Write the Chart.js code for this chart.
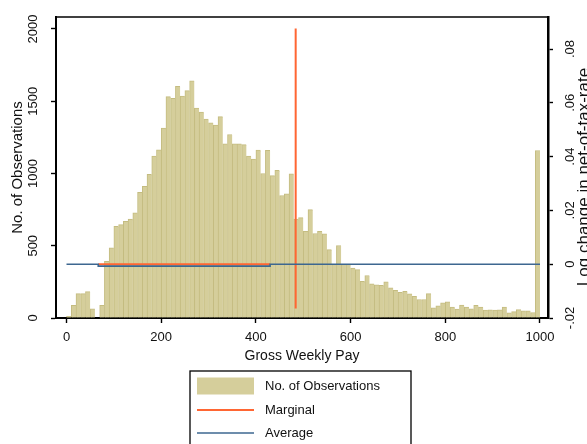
<!DOCTYPE html>
<html>
<head>
<meta charset="utf-8">
<script src="https://cdn.jsdelivr.net/npm/chart.js@4.4.1/dist/chart.umd.min.js"></script>
<style>
  html, body { margin: 0; padding: 0; background: #fff; }
  canvas { display: block; }
</style>
</head>
<body>
<canvas id="payChart" width="587" height="444"></canvas>
<script>
// Histogram bins of gross weekly pay (lower edge of each 10-unit bin)
const binStart = [
  0, 10, 20, 30, 40, 50, 60, 70, 80, 90,
  100, 110, 120, 130, 140, 150, 160, 170, 180, 190,
  200, 210, 220, 230, 240, 250, 260, 270, 280, 290,
  300, 310, 320, 330, 340, 350, 360, 370, 380, 390,
  400, 410, 420, 430, 440, 450, 460, 470, 480, 490,
  500, 510, 520, 530, 540, 550, 560, 570, 580, 590,
  600, 610, 620, 630, 640, 650, 660, 670, 680, 690,
  700, 710, 720, 730, 740, 750, 760, 770, 780, 790,
  800, 810, 820, 830, 840, 850, 860, 870, 880, 890,
  900, 910, 920, 930, 940, 950, 960, 970, 980, 990
];
const binWidth = 10;

// Number of observations in each bin
const observations = [
  12, 88, 169, 169, 183, 63, 0, 88, 393, 485,
  634, 646, 669, 685, 727, 869, 911, 995, 1120, 1164,
  1314, 1532, 1521, 1604, 1535, 1573, 1642, 1452, 1425, 1377,
  1350, 1335, 1394, 1205, 1270, 1205, 1205, 1200, 1120, 1100,
  1162, 1000, 1160, 985, 1022, 848, 860, 997, 684, 695,
  600, 750, 585, 600, 582, 473, 370, 502, 370, 370,
  345, 335, 254, 294, 237, 230, 226, 250, 209, 191,
  178, 185, 168, 150, 128, 128, 169, 70, 85, 105,
  112, 75, 62, 90, 76, 63, 88, 76, 55, 57,
  55, 56, 76, 36, 44, 58, 49, 49, 38, 1159
];

// Log change in the net-of-tax rate (right axis)
const marginalPay    = [67, 430, 457, 484, 484];
const marginalChange = [0, 0, null, 0.0876, -0.0165];
const averagePay     = [0, 67, 67, 430, 430, 1000];
const averageChange  = [0, 0, -0.0007, -0.0007, 0, 0];

// Axis ticks
const payTicks = [0, 200, 400, 600, 800, 1000];
const payTickLabels = ['0', '200', '400', '600', '800', '1000'];
const countTicks = [0, 500, 1000, 1500, 2000];
const countTickLabels = ['0', '500', '1000', '1500', '2000'];
const changeTicks = [-0.02, 0, 0.02, 0.04, 0.06, 0.08];
const changeTickLabels = ['-.02', '0', '.02', '.04', '.06', '.08'];

const FONT = "'Liberation Sans', Arial, Helvetica, sans-serif";
Chart.defaults.font.family = FONT;
Chart.defaults.color = '#111';

const KHAKI = 'rgb(213, 206, 155)';
const KHAKI_EDGE = 'rgb(196, 188, 128)';
const ORANGE = '#ff6633';
const NAVY = '#3d6790';

function fixedTicks(values) {
  return scale => { scale.ticks = values.map(v => ({ value: v })); };
}

// Top frame line, right-hand axis title and the boxed legend
const decorations = {
  id: 'decorations',
  afterDraw(chart) {
    const { ctx, chartArea } = chart;
    ctx.save();
    ctx.strokeStyle = '#000';
    ctx.lineWidth = 1.3;
    ctx.beginPath();
    ctx.moveTo(chartArea.left - 1, chartArea.top);
    ctx.lineTo(chartArea.right + 1, chartArea.top);
    ctx.stroke();

    // right axis title, reading upwards
    ctx.fillStyle = '#111';
    ctx.font = '17px ' + FONT;
    ctx.textAlign = 'center';
    ctx.textBaseline = 'alphabetic';
    ctx.translate(589, 177);
    ctx.rotate(-Math.PI / 2);
    ctx.fillText('Log change in net-of-tax-rate', 0, 0);
    ctx.restore();

    // legend
    ctx.save();
    const box = { left: 190, top: 371, right: 411, bottom: 447 };
    ctx.strokeStyle = '#000';
    ctx.lineWidth = 1.3;
    ctx.strokeRect(box.left, box.top, box.right - box.left, box.bottom - box.top);
    const rows = [386, 410, 433];
    const keyLeft = 197, keyRight = 254, textLeft = 265;
    ctx.font = '13px ' + FONT;
    ctx.textAlign = 'left';
    ctx.textBaseline = 'middle';
    chart.data.datasets.forEach((ds, i) => {
      const y = rows[i];
      if (ds.type === 'bar') {
        ctx.fillStyle = ds.backgroundColor;
        ctx.fillRect(keyLeft, y - 8.5, keyRight - keyLeft, 17);
      } else {
        ctx.strokeStyle = ds.borderColor;
        ctx.lineWidth = ds.borderWidth;
        ctx.beginPath();
        ctx.moveTo(keyLeft, y);
        ctx.lineTo(keyRight, y);
        ctx.stroke();
      }
      ctx.fillStyle = '#111';
      ctx.fillText(ds.label, textLeft, y + 0.5);
    });
    ctx.restore();
  }
};

new Chart(document.getElementById('payChart'), {
  type: 'bar',
  data: {
    datasets: [
      {
        type: 'bar',
        label: 'No. of Observations',
        data: binStart.map((s, i) => ({ x: s + binWidth / 2, y: observations[i] })),
        backgroundColor: KHAKI,
        borderColor: KHAKI_EDGE,
        borderWidth: { left: 1, right: 0, top: 1, bottom: 0 },
        barPercentage: 1,
        categoryPercentage: 1,
        xAxisID: 'x',
        yAxisID: 'y',
        order: 3
      },
      {
        type: 'line',
        label: 'Marginal',
        data: marginalPay.map((p, i) => ({ x: p, y: marginalChange[i] })),
        borderColor: ORANGE,
        backgroundColor: ORANGE,
        borderWidth: 2,
        pointRadius: 0,
        tension: 0,
        spanGaps: false,
        xAxisID: 'x',
        yAxisID: 'y2',
        order: 2
      },
      {
        type: 'line',
        label: 'Average',
        data: averagePay.map((p, i) => ({ x: p, y: averageChange[i] })),
        borderColor: NAVY,
        backgroundColor: NAVY,
        borderWidth: 1.6,
        pointRadius: 0,
        tension: 0,
        xAxisID: 'x',
        yAxisID: 'y2',
        order: 1
      }
    ]
  },
  options: {
    responsive: false,
    animation: false,
    devicePixelRatio: 1,
    layout: { padding: { top: 17, left: 0, right: 0, bottom: 0 } },
    plugins: { legend: { display: false }, tooltip: { enabled: false } },
    scales: {
      x: {
        type: 'linear',
        position: 'bottom',
        offset: false,
        min: -22.2,
        max: 1016.9,
        afterBuildTicks: fixedTicks(payTicks),
        afterFit: s => { s.height = 126; },
        ticks: {
          autoSkip: false, minRotation: 0, maxRotation: 0, padding: 7,
          color: '#111', font: { size: 13 },
          callback: (v, i) => payTickLabels[i]
        },
        grid: { offset: false, drawOnChartArea: false, tickLength: 5, color: '#000', tickWidth: 1.4 },
        border: { display: true, color: '#000', width: 2 },
        title: { display: true, text: 'Gross Weekly Pay', color: '#111', font: { size: 14 }, padding: { top: 0, bottom: 79 } }
      },
      y: {
        type: 'linear',
        position: 'left',
        min: 0,
        max: 2083,
        afterBuildTicks: fixedTicks(countTicks),
        afterFit: s => { s.width = 56; },
        ticks: {
          autoSkip: false, minRotation: 90, maxRotation: 90, padding: 3.5,
          crossAlign: 'center', color: '#111', font: { size: 13 },
          callback: (v, i) => countTickLabels[i]
        },
        grid: { drawOnChartArea: false, tickLength: 5, color: '#000', tickWidth: 1.4 },
        border: { display: true, color: '#000', width: 2 },
        title: { display: true, text: 'No. of Observations', color: '#111', font: { size: 15 }, padding: { top: 9, bottom: 0 } }
      },
      y2: {
        type: 'linear',
        position: 'right',
        min: -0.02,
        max: 0.0919,
        afterBuildTicks: fixedTicks(changeTicks),
        afterFit: s => { s.width = 39; },
        ticks: {
          autoSkip: false, minRotation: 90, maxRotation: 90, padding: 6,
          crossAlign: 'center', color: '#111', font: { size: 13 },
          callback: (v, i) => changeTickLabels[i]
        },
        grid: { drawOnChartArea: false, tickLength: 5, color: '#000', tickWidth: 1.4 },
        border: { display: true, color: '#000', width: 2.5 }
      }
    }
  },
  plugins: [decorations]
});
</script>
</body>
</html>
